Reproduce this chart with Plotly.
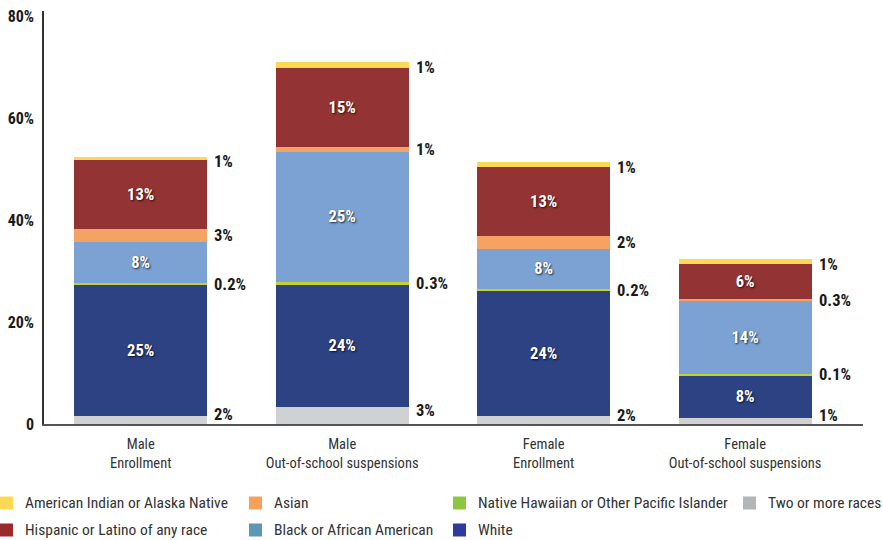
import plotly.graph_objects as go

# ---------------- data ----------------
categories = ["Male<br>Enrollment", "Male<br>Out-of-school suspensions",
              "Female<br>Enrollment", "Female<br>Out-of-school suspensions"]

two_or_more = [1.6, 3.3, 1.5, 1.2]
white = [25.6, 24.0, 24.5, 8.3]
native_hawaiian = [0.4, 0.6, 0.4, 0.4]
black = [8.0, 25.5, 8.0, 14.2]
asian = [2.7, 1.0, 2.5, 0.4]
hispanic = [13.5, 15.5, 13.4, 6.8]
american_indian = [0.6, 1.1, 1.0, 1.0]

lbl_two_or_more = ["2%", "3%", "2%", "1%"]
lbl_white = ["25%", "24%", "24%", "8%"]
lbl_native_hawaiian = ["0.2%", "0.3%", "0.2%", "0.1%"]
lbl_black = ["8%", "25%", "8%", "14%"]
lbl_asian = ["3%", "1%", "2%", "0.3%"]
lbl_hispanic = ["13%", "15%", "13%", "6%"]
lbl_american_indian = ["1%", "1%", "1%", "1%"]

y_ticks = [0, 20, 40, 60, 80]
y_ticktext = ["0", "20%", "40%", "60%", "80%"]

FONT = "Liberation Sans Narrow, Roboto Condensed, DejaVu Sans Condensed, Arial Narrow, sans-serif"

# stack order bottom -> top: (name, values, bar colour, legend colour, inside labels, right labels, yshift)
series = [
    ("Two or more races", two_or_more, "#d0d1d2", "#b3b5b7", None, lbl_two_or_more, 5),
    ("White", white, "#2c4283", "#2c3b9c", lbl_white, None, 0),
    ("Native Hawaiian or Other Pacific Islander", native_hawaiian, "#c5d22c", "#8dc63f", None, lbl_native_hawaiian, 0),
    ("Black or African American", black, "#7ba2d2", "#5b97b6", lbl_black, None, 0),
    ("Asian", asian, "#f5a262", "#f5a05c", None, lbl_asian, 0),
    ("Hispanic or Latino of any race", hispanic, "#933333", "#9b2b2b", lbl_hispanic, None, 0),
    ("American Indian or Alaska Native", american_indian, "#fcd955", "#fcd952", None, lbl_american_indian, -3),
]

fig = go.Figure()
xs = list(range(len(categories)))
for name, vals, col, _, inside, _, _ in series:
    fig.add_trace(go.Bar(
        x=xs, y=vals, name=name, marker=dict(color=col, line=dict(width=0)),
        text=inside if inside else None,
        textposition="inside" if inside else "none",
        insidetextanchor="middle", textangle=0, constraintext="none",
        textfont=dict(family=FONT, size=16.5, color="white", weight="bold",
                      shadow="1px 1px 2px rgba(0,0,0,0.75)"),
        hoverinfo="skip", showlegend=False,
    ))

BAR_HALF = 0.33
# right-side labels
cum = [0.0] * len(categories)
for name, vals, col, _, inside, right, ysh in series:
    for i, v in enumerate(vals):
        if right:
            fig.add_annotation(
                x=i + BAR_HALF, y=cum[i] + v / 2, xref="x", yref="y",
                text=right[i], showarrow=False, xanchor="left", yanchor="middle",
                xshift=5, yshift=ysh,
                font=dict(family=FONT, size=16.5, color="#1a1a1a", weight="bold"))
        cum[i] += v

# ---------------- custom legend ----------------
L, R = 44, 863
TOP, BOT = 11, 424


def px_x(px):
    return (px - L) / (R - L)


def px_y(py):
    return (BOT - py) / (BOT - TOP)


legend_items = [
    ("American Indian or Alaska Native", "#fcd952", 0, 503),
    ("Asian", "#f5a05c", 249, 503),
    ("Native Hawaiian or Other Pacific Islander", "#8dc63f", 453, 503),
    ("Two or more races", "#b3b5b7", 743, 503),
    ("Hispanic or Latino of any race", "#9b2b2b", 0, 530),
    ("Black or African American", "#5b97b6", 249, 530),
    ("White", "#2c3b9c", 453, 530),
]
for text, col, lx, ly in legend_items:
    fig.add_shape(type="rect", xref="paper", yref="paper",
                  x0=px_x(lx), x1=px_x(lx + 13), y0=px_y(ly + 6.5), y1=px_y(ly - 6.5),
                  fillcolor=col, line=dict(width=0))
    fig.add_annotation(x=px_x(lx + 23), y=px_y(ly), xref="paper", yref="paper",
                       text=text, showarrow=False, xanchor="left", yanchor="middle",
                       font=dict(family=FONT, size=15.5, color="#333333"))

fig.update_layout(
    barmode="stack", bargap=0.34,
    width=883, height=540,
    margin=dict(l=L, r=883 - R, t=TOP, b=540 - BOT),
    paper_bgcolor="white", plot_bgcolor="white",
    showlegend=False,
    font=dict(family=FONT),
    uniformtext=dict(mode=False),
)
fig.update_xaxes(
    tickmode="array", tickvals=xs, ticktext=categories, automargin=False,
    range=[-0.48, 3.585], showline=True, linecolor="#555555", linewidth=1.5,
    showgrid=False, zeroline=False, ticks="", ticklabelstandoff=6,
    tickfont=dict(family=FONT, size=14.5, color="#333333"),
)
fig.update_yaxes(
    range=[0, 80.98], tickmode="array", tickvals=y_ticks, ticktext=y_ticktext,
    automargin=False,
    showline=True, linecolor="#333333", linewidth=1.5, showgrid=False, zeroline=False,
    ticks="", ticklabelstandoff=5,
    tickfont=dict(family=FONT, size=16, color="#1a1a1a", weight="bold"),
)

fig.write_html("out.html")
